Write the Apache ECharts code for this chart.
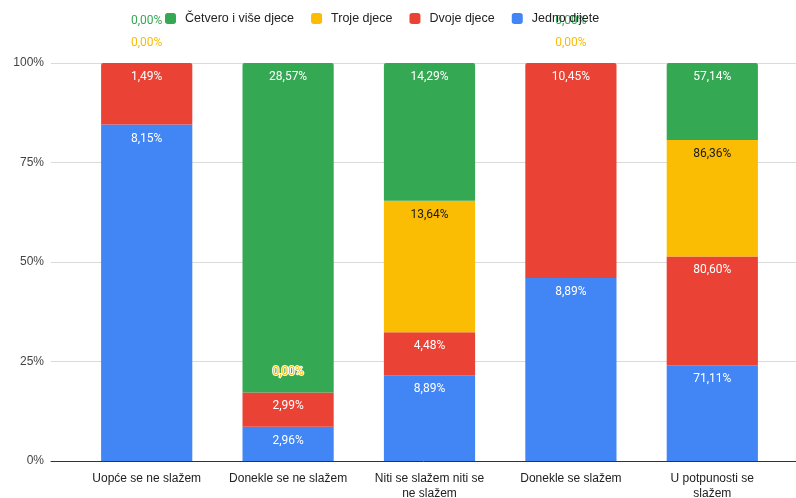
<!DOCTYPE html>
<html>
<head>
<meta charset="utf-8">
<script src="https://cdn.jsdelivr.net/npm/echarts@6/dist/echarts.min.js"></script>
<style>html,body{margin:0;padding:0;background:#fff}#c{width:796px;height:498px}</style>
</head>
<body>
<div id="c"></div>
<script>
const categories = ['Uopće se ne slažem', 'Donekle se ne slažem', 'Niti se slažem niti se\nne slažem', 'Donekle se slažem', 'U potpunosti se\nslažem'];
const seriesNames = ['Jedno dijete', 'Dvoje djece', 'Troje djece', 'Četvero i više djece'];
const jedno   = [8.15, 2.96, 8.89, 8.89, 71.11];
const dvoje   = [1.49, 2.99, 4.48, 10.45, 80.60];
const troje   = [0.00, 0.00, 13.64, 0.00, 86.36];
const cetvero = [0.00, 28.57, 14.29, 0.00, 57.14];
const yTicks = [0, 0.25, 0.5, 0.75, 1];

const colors = ['#4285F4', '#EA4335', '#FBBC04', '#34A853'];
const labelColors = ['#ffffff', '#ffffff', '#1a1a1a', '#ffffff'];
const raw = [jedno, dvoje, troje, cetvero];
const totals = categories.map((_, i) => raw.reduce((s, arr) => s + arr[i], 0));
const fmt = v => v.toFixed(2).replace('.', ',') + '%';

const series = raw.map((arr, si) => ({
  name: seriesNames[si],
  type: 'bar',
  stack: 'total',
  xAxisIndex: 1,
  yAxisIndex: 1,
  barWidth: '64.5%',
  itemStyle: { color: colors[si] },
  data: arr.map((v, ci) => {
    let top = v > 0;
    for (let k = si + 1; k < raw.length; k++) if (raw[k][ci] > 0) top = false;
    const item = { value: v / totals[ci], raw: v };
    if (top) item.itemStyle = { borderRadius: [2, 2, 0, 0] };
    if (v === 0) {
      const extra = (si === 3 && troje[ci] === 0) ? 22 : 0;
      item.label = {
        position: 'top', distance: 14 + extra, color: colors[si],
        textBorderColor: '#ffffff', textBorderWidth: 2
      };
    }
    return item;
  }),
  label: {
    show: true,
    position: 'insideTop',
    distance: 8,
    fontFamily: 'Roboto',
    fontSize: 12,
    color: labelColors[si],
    formatter: p => fmt(p.data.raw)
  }
}));

const chart = echarts.init(document.getElementById('c'));
chart.setOption({
  animation: false,
  textStyle: { fontFamily: 'Arial, "Liberation Sans", sans-serif' },
  legend: {
    data: ['Četvero i više djece', 'Troje djece', 'Dvoje djece', 'Jedno dijete'],
    left: 160, top: 7,
    itemWidth: 11, itemHeight: 11, itemGap: 17,
    icon: 'roundRect',
    textStyle: { fontSize: 12.5, color: '#222', padding: [0, 0, 0, 4] }
  },
  grid: [
    { left: 51, right: 0, top: 63, bottom: 37, outerBoundsMode: 'none', containLabel: false },
    { left: 76, right: 13, top: 63, bottom: 37, outerBoundsMode: 'none', containLabel: false }
  ],
  xAxis: [
    { type: 'category', gridIndex: 0, data: [''], axisLine: { show: true, lineStyle: { color: '#333', width: 1 } }, axisTick: { show: false }, axisLabel: { show: false }, z: 10 },
    { type: 'category', gridIndex: 1, data: categories,
      axisLine: { show: false }, axisTick: { show: false },
      axisLabel: { color: '#222', fontSize: 12, margin: 10, lineHeight: 15, interval: 0 } }
  ],
  yAxis: [
    { type: 'value', gridIndex: 0, min: 0, max: 1, interval: 0.25,
      axisLabel: { color: '#444', fontSize: 12, margin: 7, padding: [3, 0, 0, 0], formatter: v => yTicks.includes(v) ? Math.round(v * 100) + '%' : '' },
      splitLine: { lineStyle: { color: '#dadada' } }, axisLine: { show: false }, axisTick: { show: false } },
    { type: 'value', gridIndex: 1, min: 0, max: 1, interval: 0.25, show: false, splitLine: { show: false } }
  ],
  series: series
});
</script>
</body>
</html>
